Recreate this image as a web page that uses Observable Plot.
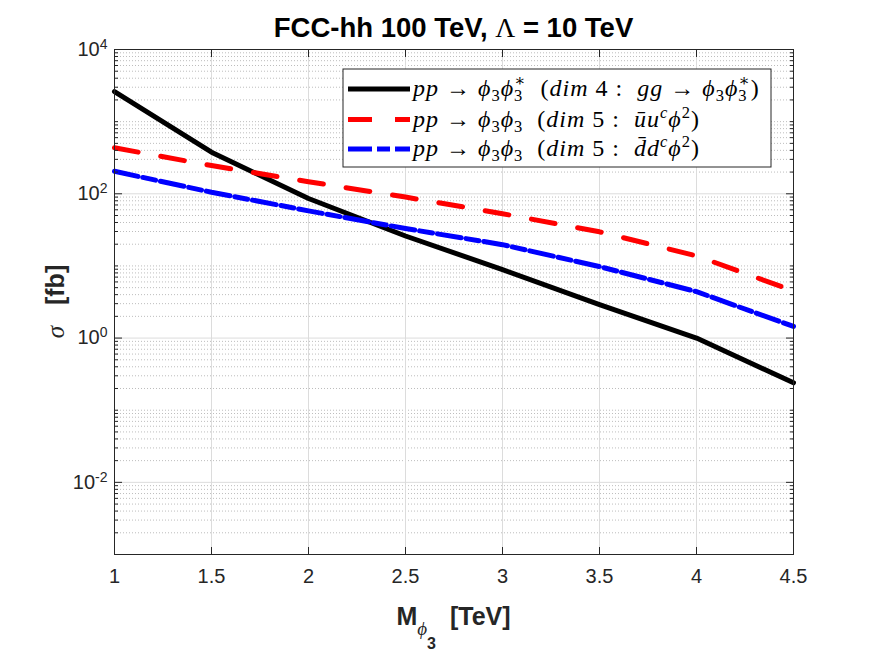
<!DOCTYPE html>
<html><head><meta charset="utf-8">
<script src="https://cdn.jsdelivr.net/npm/d3@7"></script>
<script src="https://cdn.jsdelivr.net/npm/@observablehq/plot@0.6"></script>
<style>
body{margin:0;background:#fff;}
#wrap{position:relative;width:875px;height:656px;}
#title{position:absolute;left:0;top:12px;width:907px;text-align:center;font:bold 27.5px "Liberation Sans",Arial,sans-serif;color:#000;white-space:pre;z-index:2;}
#title .g{font-family:"Liberation Serif","DejaVu Serif",serif;font-weight:normal;}
</style></head><body>
<div id="wrap"><div id="title">FCC-hh 100 TeV, <span class="g">Λ</span> = 10 TeV</div></div>
<script>
// ---- data ----
const masses = [1, 1.5, 2, 2.5, 3, 3.5, 4, 4.5];
const sigmaDim4 = [2610, 377, 86, 26, 8.9, 2.9, 1.0, 0.24];
const sigmaDim5u = [434, 246, 147, 90, 53, 29.7, 13.8, 4.5];
const sigmaDim5d = [205, 105, 58, 33, 19.7, 9.8, 4.4, 1.45];
const seriesNames = ["dim4", "dim5u", "dim5d"];
const seriesColors = ["#000000", "#ff0000", "#0000ff"];
const seriesDash = [null, "24,23", "24,5,13,5"];
const xTicks = [1, 1.5, 2, 2.5, 3, 3.5, 4, 4.5];
const yLabelTicks = [1e-2, 1e0, 1e2, 1e4];
const yDecades = [1e-3, 1e-2, 1e-1, 1e0, 1e1, 1e2, 1e3];
const yMinorMultipliers = [2, 3, 4, 5, 6, 7, 8, 9];

(function () {
const yMinorTicks = yDecades.flatMap(d => yMinorMultipliers.map(m => m * d)).concat([1e-1, 1e1, 1e3]);

const rows = [];
[sigmaDim4, sigmaDim5u, sigmaDim5d].forEach((arr, i) =>
  arr.forEach((v, j) => rows.push({series: seriesNames[i], m: masses[j], s: v})));

const axisColor = "#262626";
const lineMarks = seriesNames.map((name, i) =>
  Plot.line(rows.filter(r => r.series === name), {
    x: "m", y: "s", stroke: seriesColors[i], strokeWidth: 5,
    strokeDasharray: seriesDash[i] || undefined, strokeLinejoin: "round"
  }));

const plot = Plot.plot({
  width: 875, height: 656,
  marginLeft: 114, marginRight: 82, marginTop: 49, marginBottom: 102,
  style: {fontFamily: "'Liberation Sans', Arial, sans-serif", fontSize: "20px", color: axisColor, background: "white", overflow: "visible"},
  x: {domain: [1, 4.5]},
  y: {type: "log", domain: [1e-3, 1e4]},
  marks: [
    Plot.ruleY(yMinorTicks, {stroke: "#bdbdbd", strokeWidth: 1, strokeDasharray: "1,2"}),
    Plot.ruleY(yLabelTicks, {stroke: "#dcdcdc", strokeWidth: 1}),
    Plot.ruleX(xTicks, {stroke: "#dcdcdc", strokeWidth: 1}),
    ...lineMarks,
    Plot.axisY(yLabelTicks, {anchor: "left", tickSize: -8, tickFormat: () => "", label: null}),
    Plot.axisY(yLabelTicks, {anchor: "right", tickSize: -8, tickFormat: () => "", label: null}),
    Plot.axisY(yMinorTicks, {anchor: "left", tickSize: -4, tickFormat: () => "", label: null}),
    Plot.axisY(yMinorTicks, {anchor: "right", tickSize: -4, tickFormat: () => "", label: null}),
    Plot.axisX(xTicks, {anchor: "bottom", tickSize: -7, tickFormat: () => "", label: null}),
    Plot.axisX(xTicks, {anchor: "top", tickSize: -7, tickFormat: () => "", label: null}),
    Plot.axisY(yLabelTicks, {anchor: "left", tickSize: 0, tickPadding: 7, fontSize: 20,
      tickFormat: d => "10^" + Math.round(Math.log10(d)), label: null}),
    Plot.axisX(xTicks, {anchor: "bottom", tickSize: 0, tickPadding: 14, fontSize: 20,
      tickFormat: d => String(d), label: null}),
    Plot.frame({stroke: axisColor, strokeWidth: 1})
  ]
});

const svg = d3.select(plot);

svg.selectAll("text").each(function() {
  const t = d3.select(this);
  const s = t.text();
  if (/^10\^/.test(s)) {
    const e = s.slice(3);
    t.text("10");
    t.append("tspan").attr("dy", "-0.5em").attr("font-size", "14px").text(e);
  }
});

const xs = plot.scale("x"), ys = plot.scale("y");
const pl = xs.apply(1), pr = xs.apply(4.5), pt = ys.apply(1e4), pb = ys.apply(1e-3);
const cx = (pl + pr) / 2, cy = (pt + pb) / 2;
const serif = "'Liberation Serif','DejaVu Serif',serif";

const yl = svg.append("text")
  .attr("transform", `translate(${pl - 50},${cy}) rotate(-90)`)
  .attr("text-anchor", "middle").attr("font-size", 25).attr("fill", "#262626")
  .style("white-space", "pre");
yl.append("tspan").attr("font-family", serif).attr("font-style", "italic").text("σ");
yl.append("tspan").attr("font-weight", "bold").text("   [fb]");

const xl = svg.append("text")
  .attr("x", cx).attr("y", pb + 71)
  .attr("text-anchor", "middle").attr("font-size", 25).attr("fill", "#262626").attr("font-weight", "bold")
  .style("white-space", "pre");
xl.append("tspan").text("M");
xl.append("tspan").attr("dy", 10).attr("font-size", 19).attr("font-weight", "normal")
  .attr("font-family", serif).attr("font-style", "italic").text("ϕ");
xl.append("tspan").attr("dy", 14).attr("font-size", 16).text("3");
xl.append("tspan").attr("dy", -24).text("  [TeV]");

const legendRows = [
  [["pp","i"],[" → ","r"],["ϕ","i"],["3","sub"],["ϕ","i"],["3","sub"],["∗","supback"],["  (","r"],["dim","i"],[" 4 :  ","r"],["gg","i"],[" → ","r"],["ϕ","i"],["3","sub"],["ϕ","i"],["3","sub"],["∗","supback"],[")","r"]],
  [["pp","i"],[" → ","r"],["ϕ","i"],["3","sub"],["ϕ","i"],["3","sub"],["  (","r"],["dim","i"],[" 5 :  ","r"],["ū","i"],["u","i"],["c","sup"],["ϕ","i"],["2","supr"],[")","r"]],
  [["pp","i"],[" → ","r"],["ϕ","i"],["3","sub"],["ϕ","i"],["3","sub"],["  (","r"],["dim","i"],[" 5 :  ","r"],["d\u0304","i"],["d","i"],["c","sup"],["ϕ","i"],["2","supr"],[")","r"]]
];
const lg = svg.append("g");
const lx0 = 343, ly0 = 69, lw = 428, lh = 98;
lg.append("rect").attr("x", lx0).attr("y", ly0).attr("width", lw).attr("height", lh)
  .attr("fill", "white").attr("stroke", "#262626").attr("stroke-width", 1);
const rowY = [89, 119.5, 149];
const fs = 24, ss = 16.5;
legendRows.forEach((segs, i) => {
  const y = rowY[i];
  const ln = lg.append("line").attr("x1", 348).attr("x2", 410).attr("y1", y).attr("y2", y)
    .attr("stroke", seriesColors[i]).attr("stroke-width", 5);
  if (seriesDash[i]) ln.attr("stroke-dasharray", seriesDash[i]);
  const t = lg.append("text").attr("x", 413).attr("y", y + 7)
    .attr("text-anchor", "start").attr("letter-spacing", 1)
    .attr("font-family", serif).attr("font-size", fs).attr("fill", "#000")
    .style("white-space", "pre");
  let cur = 0;
  segs.forEach(([s, k]) => {
    const sp = t.append("tspan").text(s);
    let off = 0;
    if (k === "i") { sp.attr("font-style", "italic"); }
    if (k === "sub") { off = 5; sp.attr("font-size", ss); }
    if (k === "sup") { off = -9; sp.attr("font-size", ss).attr("font-style", "italic"); }
    if (k === "supr") { off = -9; sp.attr("font-size", ss); }
    if (k === "supback") { off = -10; sp.attr("font-size", ss).attr("dx", -9); }
    sp.attr("dy", off - cur);
    cur = off;
  });
});

document.getElementById("wrap").appendChild(plot);
plot.style.position = "absolute"; plot.style.left = "0"; plot.style.top = "0";
})();
</script>
</body></html>
